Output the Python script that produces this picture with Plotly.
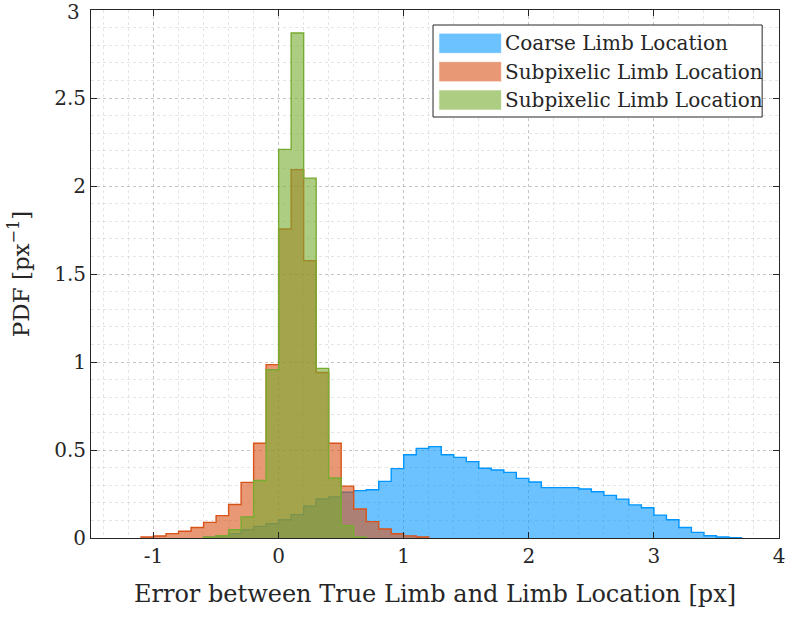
import plotly.graph_objects as go

# Histogram data (PDF, bin width 0.1 px)
bin_width = 0.1

coarse_first_edge = -0.6
coarse_pdf = [0.004, 0.013, 0.025, 0.047, 0.066, 0.081, 0.104, 0.133, 0.180, 0.222,
              0.233, 0.260, 0.269, 0.274, 0.322, 0.394, 0.473, 0.509, 0.519, 0.473,
              0.458, 0.434, 0.396, 0.386, 0.373, 0.339, 0.318, 0.286, 0.286, 0.286,
              0.278, 0.263, 0.242, 0.221, 0.188, 0.172, 0.130, 0.104, 0.060, 0.032,
              0.013, 0.006, 0.002]

subpix_a_first_edge = -1.1
subpix_a_pdf = [0.006, 0.011, 0.025, 0.038, 0.060, 0.089, 0.127, 0.190, 0.316, 0.538,
                0.985, 1.756, 2.093, 1.576, 0.940, 0.538, 0.295, 0.165, 0.093, 0.051,
                0.024, 0.012, 0.006]

subpix_b_first_edge = -0.6
subpix_b_pdf = [0.004, 0.013, 0.047, 0.119, 0.327, 0.956, 2.208, 2.869, 2.045, 0.964,
                0.341, 0.070, 0.004]

series_names = ["Coarse Limb Location", "Subpixelic Limb Location", "Subpixelic Limb Location"]
edge_colors = ["rgb(0,150,255)", "rgb(217,83,25)", "rgb(119,172,48)"]
fill_colors = ["rgba(0,150,255,0.58)", "rgba(217,83,25,0.6)", "rgba(119,172,48,0.6)"]

x_ticks = [-1, 0, 1, 2, 3, 4]
x_tick_text = ["-1", "0", "1", "2", "3", "4"]
y_ticks = [0, 0.5, 1, 1.5, 2, 2.5, 3]

FONT = "DejaVu Serif"
INK = "#262626"


def stairs(first_edge, pdf):
    """Closed step outline of a histogram, bin by bin."""
    edges = [round(first_edge + i * bin_width, 6) for i in range(len(pdf) + 1)]
    xs = [edges[0]] + edges + [edges[-1]]
    ys = [0] + list(pdf) + [pdf[-1], 0]
    return xs, ys


fig = go.Figure()
for (first, pdf), name, ec, fc in zip(
        [(coarse_first_edge, coarse_pdf), (subpix_a_first_edge, subpix_a_pdf),
         (subpix_b_first_edge, subpix_b_pdf)],
        series_names, edge_colors, fill_colors):
    xs, ys = stairs(first, pdf)
    fig.add_trace(go.Scatter(
        x=xs, y=ys, mode="lines", line=dict(color=ec, width=1.4, shape="hv"),
        fill="tozeroy", fillcolor=fc, name=name, showlegend=False,
        hoverinfo="skip"))

# Legend drawn as a boxed panel with wide colour swatches
L, T, R, B = 436, 25, 768, 117
W_PLOT, H_PLOT, X0, Y0 = 694, 528, 91, 538


def px(x):
    return (x - X0) / W_PLOT


def py(y):
    return (Y0 - y) / H_PLOT


shapes = [dict(type="rect", xref="paper", yref="paper",
               x0=px(L), x1=px(R), y0=py(B), y1=py(T),
               fillcolor="white", line=dict(color=INK, width=1), layer="above")]
annotations = []
row_centers = [43.3, 71.7, 100.0]
for yc, name, fc in zip(row_centers, series_names, fill_colors):
    shapes.append(dict(type="rect", xref="paper", yref="paper",
                       x0=px(442), x1=px(505), y0=py(yc + 10), y1=py(yc - 10),
                       fillcolor=fc, line=dict(color="rgba(255,255,255,0.6)", width=1),
                       layer="above"))
    annotations.append(dict(xref="paper", yref="paper", x=px(507), y=py(yc),
                            text=name, showarrow=False, xanchor="left", yanchor="middle",
                            font=dict(family=FONT, size=20, color=INK)))

# Top tick label sits half above the plotting area, so draw it as text
annotations.append(dict(xref="paper", yref="y", x=px(82), y=y_ticks[-1],
                        text=str(y_ticks[-1]), showarrow=False,
                        xanchor="right", yanchor="middle", yshift=-2,
                        font=dict(family=FONT, size=20, color=INK)))

grid_major = "rgba(165,165,165,0.5)"
grid_minor = "rgba(190,190,190,0.4)"

fig.update_layout(
    width=792, height=619,
    margin=dict(l=X0, r=792 - X0 - W_PLOT, t=Y0 - H_PLOT, b=619 - Y0),
    plot_bgcolor="white", paper_bgcolor="white",
    font=dict(family=FONT, size=20, color=INK),
    shapes=shapes, annotations=annotations,
    xaxis=dict(
        range=[-1.5, 4], tickvals=x_ticks, ticktext=x_tick_text,
        showline=True, linecolor=INK, linewidth=1, mirror="ticks",
        ticks="inside", ticklen=6, tickcolor=INK,
        showgrid=True, gridcolor=grid_major, griddash="dot", gridwidth=1,
        minor=dict(dtick=0.2, tick0=0, showgrid=True, gridcolor=grid_minor,
                   griddash="dot", ticks=""),
        zeroline=False,
        title=dict(text="Error between True Limb and Limb Location [px]",
                   font=dict(family=FONT, size=24, color=INK), standoff=18),
        tickfont=dict(family=FONT, size=20, color=INK),
    ),
    yaxis=dict(
        range=[0, 3], tickvals=y_ticks[:-1],
        showline=True, linecolor=INK, linewidth=1, mirror="ticks",
        ticks="inside", ticklen=6, tickcolor=INK,
        showgrid=True, gridcolor=grid_major, griddash="dot", gridwidth=1,
        minor=dict(dtick=0.1, tick0=0, showgrid=True, gridcolor=grid_minor,
                   griddash="dot", ticks=""),
        zeroline=False,
        title=dict(text="PDF [px<sup>−1</sup>]",
                   font=dict(family=FONT, size=23, color=INK), standoff=18),
        tickfont=dict(family=FONT, size=20, color=INK),
    ),
)

fig.write_html("out.html")
